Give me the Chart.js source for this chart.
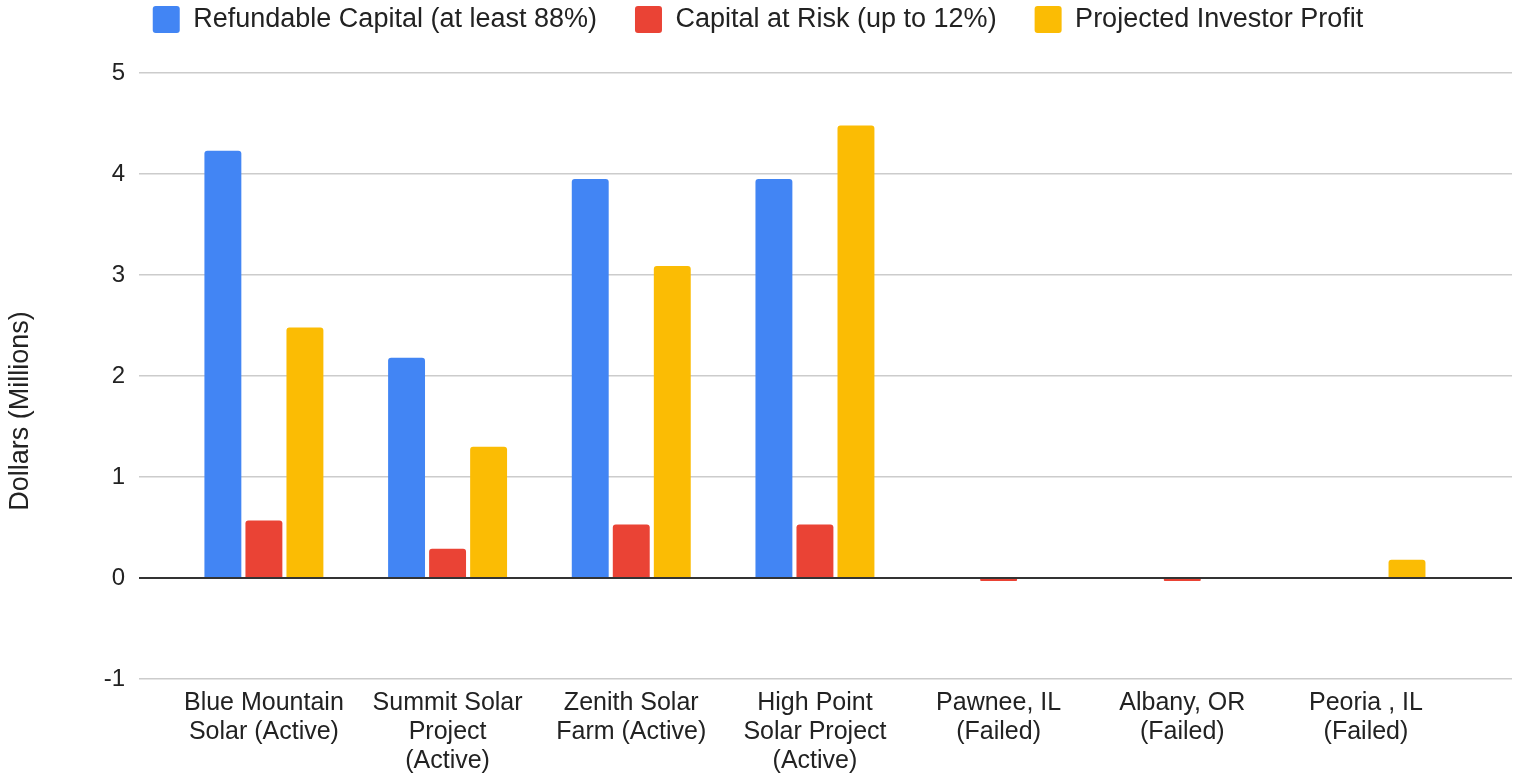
<!DOCTYPE html>
<html>
<head>
<meta charset="utf-8">
<script src="https://cdn.jsdelivr.net/npm/chart.js@4"></script>
<style>
  html, body { margin: 0; padding: 0; background: #fff; }
  #wrap { width: 1515px; height: 773px; }
</style>
</head>
<body>
<div id="wrap"><canvas id="chart"></canvas></div>
<script>
// Solar projects - investor capital (millions)

const projects = [
    ["Blue Mountain", "Solar (Active)"],
    ["Summit Solar", "Project", "(Active)"],
    ["Zenith Solar", "Farm (Active)"],
    ["High Point", "Solar Project", "(Active)"],
    ["Pawnee, IL", "(Failed)"],
    ["Albany, OR", "(Failed)"],
    ["Peoria , IL", "(Failed)"]
];

const refundable = [4.23, 2.18, 3.95, 3.95, 0, 0, 0];
const atRisk = [0.57, 0.29, 0.53, 0.53, -0.03, -0.03, 0.01];
const profit = [2.48, 1.30, 3.09, 4.48, 0, 0, 0.18];

const yTicks = [-1, 0, 1, 2, 3, 4, 5];
const yTitle = "Dollars (Millions)";

const FONT = "'Liberation Sans', Arial, sans-serif";

function bars(label, data, color) {
    return {
        label,
        data,
        backgroundColor: color,
        borderRadius: 3,
        borderSkipped: 'start',
        categoryPercentage: 0.67,
        barPercentage: 0.9
    };
}

// axis title sits a bit below the plot centre, like the sheets export
const yTitlePlugin = {
    id: 'yTitle',
    afterDraw(chart) {
        const ctx = chart.ctx;
        const mid = (chart.chartArea.top + chart.height) / 2 - 12;
        ctx.save();
        ctx.translate(21, mid);
        ctx.rotate(-Math.PI / 2);
        ctx.font = "27px " + FONT;
        ctx.fillStyle = '#222';
        ctx.textAlign = 'center';
        ctx.textBaseline = 'middle';
        ctx.fillText(yTitle, 0, 0);
        ctx.restore();
    }
};

// legend hugs the top edge, leave a gap under it
const legendGap = {
    id: 'legendGap',
    beforeInit(chart) {
        const fit = chart.legend.fit;
        chart.legend.fit = function () {
            fit.call(this);
            this.height = 105;
        };
    }
};

new Chart(document.getElementById("chart"), {
    type: 'bar',
    data: {
        labels: projects,
        datasets: [
            bars('Refundable Capital (at least 88%)', refundable, '#4285f4'),
            bars('Capital at Risk (up to 12%)', atRisk, '#ea4335'),
            bars('Projected Investor Profit', profit, '#fbbc04')
        ]
    },
    plugins: [yTitlePlugin, legendGap],
    options: {
        responsive: true,
        maintainAspectRatio: false,
        animation: false,
        layout: { padding: { top: -32, right: 3, bottom: -5, left: 4 } },
        plugins: {
            tooltip: { enabled: false },
            legend: {
                position: 'top',
                align: 'center',
                labels: {
                    color: '#222',
                    font: { family: FONT, size: 27 },
                    boxWidth: 27,
                    boxHeight: 27,
                    padding: 38,
                    useBorderRadius: true,
                    borderRadius: 3
                }
            }
        },
        scales: {
            x: {
                grid: { display: false },
                border: { display: false },
                ticks: {
                    color: '#222',
                    font: { family: FONT, size: 25, lineHeight: 1.16 },
                    maxRotation: 0,
                    autoSkip: false,
                    padding: 2
                },
                // google-style spacing: plot lines run a bit past the outer groups
                afterUpdate: scale => {
                    scale._startValue = scale.min - 0.5 - 0.18;
                    scale._valueRange = (scale.max - scale.min) + 1 + 0.18 + 0.295;
                }
            },
            y: {
                min: -1,
                max: 5,
                afterBuildTicks: scale => {
                    scale.ticks = yTicks.map(v => ({ value: v }));
                },
                afterFit: scale => { scale.width = 135; },
                grid: {
                    color: ctx => ctx.tick && ctx.tick.value === 0 ? '#333' : '#cccccc',
                    lineWidth: ctx => ctx.tick && ctx.tick.value === 0 ? 2 : 1.5,
                    drawTicks: false
                },
                border: { display: false },
                ticks: {
                    color: '#222',
                    font: { family: FONT, size: 24 },
                    padding: 14
                }
            }
        }
    }
});
</script>
</body>
</html>
